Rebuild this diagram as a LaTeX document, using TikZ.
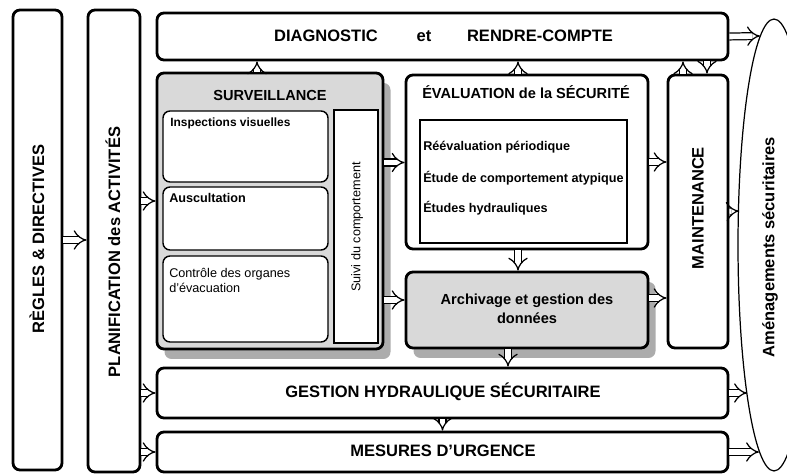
\documentclass[tikz,border=0pt]{standalone}
\usepackage{fontspec}
\setmainfont{Liberation Sans}
\usetikzlibrary{arrows.meta,fit,shapes.geometric,shadows}
\tikzset{
every picture/.style={
line width=1.6pt
},
box/.style={draw, rounded corners=4pt, inner sep=0pt},
subbox/.style={draw, line width=0.8pt, rounded corners=4pt, inner sep=0pt, fill=white},
grayshadow/.style={fill=gray!30, drop shadow={shadow xshift=0.15cm, shadow yshift=-0.2cm, fill=gray!65, opacity=1}},
bigtitle/.style={font=\bfseries\fontsize{9.4}{11}\selectfont},
headtext/.style={font=\bfseries\fontsize{8.3}{10.5}\selectfont},
itemtext/.style={font=\bfseries\fontsize{7.2}{9}\selectfont},
link/.style={line width=0.7pt, double distance=3.2pt, -{Implies}}
}

\begin{document}
\begin{tikzpicture}[x=0.02cm, y=-0.02cm]
      \useasboundingbox (0,0) rectangle (787,475);
      % side columns
      \node[box, fit={(13,10) (62,470)}] (regles) {};
      \node[box, fit={(88,10) (140,472)}] (plan) {};
      \node[bigtitle, rotate=90] at (37,239) {RÈGLES \& DIRECTIVES};
      \node[bigtitle, rotate=90] at (113,252) {PLANIFICATION des ACTIVITÉS};
      % top band
      \node[box, fit={(157,13) (728,60)}] (diag) {};
      \node[bigtitle] at (326,36) {DIAGNOSTIC};
      \node[bigtitle] at (424,36) {et};
      \node[bigtitle] at (540,36) {RENDRE-COMPTE};
      % surveillance
      \node[box, grayshadow, fit={(157,73) (383,349)}] (surv) {};
      \node[headtext] at (270,95) {SURVEILLANCE};
      \node[subbox, fit={(163,111) (328,182)}] (insp) {};
      \node[itemtext, font=\bfseries\fontsize{6.8}{8}\selectfont, anchor=west] at (163,123) {Inspections visuelles};
      \node[subbox, fit={(163,187) (328,250)}] (ausc) {};
      \node[itemtext, anchor=west] at (162,198) {Auscultation};
      \node[subbox, fit={(163,256) (328,342)}] (ctrl) {};
      \node[font=\fontsize{7.2}{8.6}\selectfont, anchor=north west, align=left] at (162,261)
      {Contrôle des organes\\d'évacuation};
      \node[draw, line width=0.8pt, fill=white, inner sep=0pt, fit={(334,110) (378,343)}] (suivi) {};
      \node[font=\fontsize{7.2}{9}\selectfont, rotate=90] at (357,227) {Suivi du comportement};
      % evaluation
      \node[box, fit={(406,75) (648,249)}] (eval) {};
      \node[headtext, anchor=west] at (415,92) {ÉVALUATION de la SÉCURITÉ};
      \node[draw, line width=0.6pt, inner sep=0pt, fit={(420,120) (627,243)}] (evalin) {};
      \node[itemtext, anchor=west] at (416,147) {Réévaluation périodique};
      \node[itemtext, anchor=west] at (416,178) {Étude de comportement atypique};
      \node[itemtext, anchor=west] at (416,208) {Études hydrauliques};
      % archivage
      \node[box, grayshadow, fit={(406,272) (648,348)}] (arch) {};
      \node[headtext, align=center] at (527,309) {Archivage et gestion des\\données};
      % maintenance
      \node[box, fit={(668,75) (728,348)}] (maint) {};
      \node[bigtitle, rotate=90] at (698,208) {MAINTENANCE};
      % bottom bands
      \node[box, fit={(157,368) (728,418)}] (gest) {};
      \node[bigtitle] at (443,392) {GESTION HYDRAULIQUE SÉCURITAIRE};
      \node[box, fit={(157,432) (728,472)}] (mes) {};
      \node[bigtitle] at (443,451) {MESURES D'URGENCE};
      % ellipse
      \begin{scope}
        \clip (0,0) rectangle (787,475);
        \node[draw, ellipse, line width=0.7pt, inner sep=0pt,
        minimum width=1.44cm, minimum height=9.04cm] (amen) at (774,245) {};
      \end{scope}
      \node[bigtitle, rotate=90] at (770,247) {Aménagements sécuritaires};
      \coordinate (a1) at (760,36);
      \coordinate (a2) at (739,211);
      \coordinate (a3) at (747,393);
      \coordinate (a4) at (759,452);
      % connectors
      \draw[link] (regles.east) -- (regles.east -| plan.west);
      \draw[link] ([yshift=0.2cm]surv.west -| plan.east) -- ([yshift=0.2cm]surv.west);
      \draw[link] (gest.west -| plan.east) -- (gest.west);
      \draw[link] (mes.west -| plan.east) -- (mes.west);
      \draw[link] ([xshift=-0.26cm]surv.north) -- ([xshift=-0.26cm]surv.north |- diag.south);
      \draw[link] ([xshift=-0.18cm]eval.north) -- ([xshift=-0.18cm]eval.north |- diag.south);
      \draw[link] ([xshift=-0.3cm]maint.north) -- ([xshift=-0.3cm]maint.north |- diag.south);
      \draw[link] ([xshift=0.18cm]maint.north |- diag.south) -- ([xshift=0.18cm]maint.north);
      \draw[link] ([yshift=0.97cm]surv.east) -- ([yshift=0.97cm]surv.east -| eval.west);
      \draw[link] ([yshift=0.2cm]arch.west -| surv.east) -- ([yshift=0.2cm]arch.west);
      \draw[link] (eval.east) -- (eval.east -| maint.west);
      \draw[link] ([yshift=0.24cm]arch.east) -- ([yshift=0.24cm]arch.east -| maint.west);
      \draw[link] ([xshift=-0.18cm]eval.south) -- ([xshift=-0.18cm]eval.south |- arch.north);
      \draw[link] ([xshift=-0.38cm]arch.south) -- ([xshift=-0.38cm]arch.south |- gest.north);
      \draw[link] (gest.south) -- (gest.south |- mes.north);
      \draw[link] (diag.east) -- (a1);
      \draw[link] (maint.east) -- (a2);
      \draw[link] (gest.east) -- (a3);
      \draw[link] (mes.east) -- (a4);
    \end{tikzpicture}
\end{document}
